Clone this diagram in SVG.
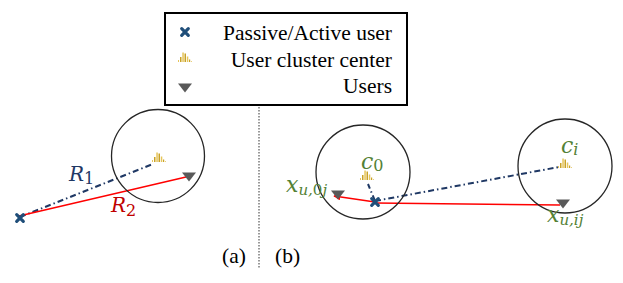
<svg xmlns="http://www.w3.org/2000/svg" width="623" height="283" viewBox="0 0 623 283">
<defs>
<style>
.lg{font-family:'Liberation Serif','Times New Roman',serif;font-size:21.5px;fill:#000}
.math{font-family:'DejaVu Serif',serif;font-style:italic}
.ring{fill:none;stroke:#262626;stroke-width:1.3}
.dd{fill:none;stroke:#1f3864;stroke-width:2;stroke-dasharray:6 3 1.5 3}
.rl{fill:none;stroke:#ff0000;stroke-width:1.5}
.cross{fill:none;stroke:#1f4e79;stroke-width:3.2;stroke-linecap:round}
.tri{fill:#595959}
.bar{fill:#c9a227}
.barl{fill:#e6c55a}
</style>
<g id="userIcon"><path class="cross" d="M-3.3,-3.3L3.3,3.3M3.3,-3.3L-3.3,3.3"/></g>
<g id="centerIcon">
<rect class="barl" x="-7" y="-2" width="1" height="2"/>
<rect class="bar" x="-5" y="-5" width="1.5" height="5"/>
<rect class="barl" x="-2.7" y="-9.5" width="1.5" height="9.5"/>
<rect class="bar" x="-0.5" y="-8.5" width="1.5" height="8.5"/>
<rect class="barl" x="1.8" y="-5.5" width="1.5" height="5.5"/>
<rect class="bar" x="4" y="-2.5" width="1.2" height="2.5"/>
<rect class="barl" x="6" y="-0.8" width="1" height="0.8"/>
</g>
<path id="triIcon" class="tri" d="M-7,-4.5L7,-4.5L0,4.5Z"/>
<marker id="ah" viewBox="0 0 10 10" refX="9" refY="5" markerWidth="7" markerHeight="7" orient="auto" markerUnits="userSpaceOnUse">
<path d="M0,0L10,5L0,10Z" fill="#ff0000"/>
</marker>
</defs>
<rect width="623" height="283" fill="#fff"/>

<g id="legend">
<rect x="165" y="13" width="242" height="92" fill="#fff" stroke="#000" stroke-width="2"/>
<use href="#userIcon" x="185" y="32"/>
<use href="#centerIcon" x="185" y="62"/>
<use href="#triIcon" x="185" y="88"/>
<text class="lg" x="392" y="40" text-anchor="end">Passive/Active user</text>
<text class="lg" x="392" y="67" text-anchor="end">User cluster center</text>
<text class="lg" x="392" y="93" text-anchor="end">Users</text>
</g>

<g id="separator">
<line x1="259" y1="107" x2="259" y2="268" stroke="#999" stroke-width="2" stroke-dasharray="1.5 1.5"/>
</g>

<g id="connectors">
<line class="dd" x1="20" y1="217" x2="153" y2="164"/>
<line class="rl" x1="19" y1="216" x2="186" y2="177"/>
<line class="dd" x1="375" y1="201" x2="368" y2="184"/>
<line class="dd" x1="375" y1="201" x2="559" y2="167"/>
<line class="rl" x1="375" y1="202" x2="334" y2="196" marker-end="url(#ah)"/>
<line class="rl" x1="375" y1="203" x2="560" y2="205"/>
</g>

<g id="panel-a">
<g id="a-cluster"><circle class="ring" cx="158" cy="156" r="46.5"/></g>
<g id="a-center"><use href="#centerIcon" x="159" y="162"/></g>
<g id="a-user"><use href="#triIcon" x="189" y="177"/></g>
<g id="a-active"><use href="#userIcon" x="20" y="218"/></g>
<text class="math" x="69" y="181" font-size="20" fill="#1f3864">R<tspan font-size="16" font-style="normal" dy="3">1</tspan></text>
<text class="math" x="111" y="212" font-size="20" fill="#c00000">R<tspan font-size="16" font-style="normal" dy="4">2</tspan></text>
<text class="lg" x="222" y="263">(a)</text>
</g>

<g id="panel-b">
<g id="b-cluster0"><circle class="ring" cx="363" cy="172" r="47"/></g>
<g id="b-clusteri"><circle class="ring" cx="565" cy="166" r="47"/></g>
<g id="b-center0"><use href="#centerIcon" x="367" y="180"/></g>
<g id="b-centeri"><use href="#centerIcon" x="565" y="168"/></g>
<g id="b-user0"><use href="#triIcon" x="338" y="195"/></g>
<g id="b-useri"><use href="#triIcon" x="563" y="204"/></g>
<g id="b-active"><use href="#userIcon" x="375" y="202"/></g>
<text class="math" x="361" y="169" font-size="22" fill="#538135">c<tspan font-size="16" font-style="normal" dy="2">0</tspan></text>
<text class="math" x="561" y="153" font-size="22" fill="#538135">c<tspan font-size="16" dy="2">i</tspan></text>
<text class="math" x="286" y="192" font-size="22" fill="#538135">x<tspan font-size="15" dy="3">u,<tspan font-style="normal">0</tspan>j</tspan></text>
<text class="math" x="547" y="222" font-size="22" fill="#538135">x<tspan font-size="15" dy="3">u,ij</tspan></text>
<text class="lg" x="275" y="263">(b)</text>
</g>
</svg>
